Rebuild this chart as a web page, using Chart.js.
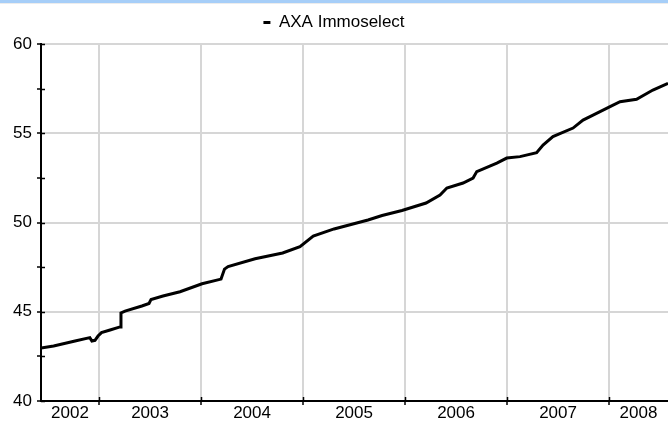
<!DOCTYPE html>
<html>
<head>
<meta charset="utf-8">
<script src="https://cdn.jsdelivr.net/npm/chart.js@4.4.1/dist/chart.umd.min.js"></script>
<style>
  body { margin: 0; background: #fff; }
  #wrap { position: relative; width: 668px; height: 421px; }
  #topbar { position: absolute; left: 0; top: 0; width: 668px; height: 3px; background: #a6cef8; border-bottom: 1px solid #ececec; }
  canvas { position: absolute; left: 0; top: 0; }
</style>
</head>
<body>
<div id="wrap">
  <canvas id="chart" width="668" height="421"></canvas>
  <div id="topbar"></div>
</div>
<script>
// fund price (x = decimal year)
const seriesName = "AXA Immoselect"
const dates = [2002.431, 2002.555, 2002.765, 2002.91, 2002.93, 2002.96, 2002.99, 2003.024, 2003.108, 2003.206,
    2003.215, 2003.255, 2003.42, 2003.49, 2003.51, 2003.627, 2003.794, 2004.01, 2004.196, 2004.23,
    2004.265, 2004.53, 2004.8, 2004.97, 2005.1, 2005.304, 2005.637, 2005.775, 2005.97, 2006.206,
    2006.343, 2006.41, 2006.569, 2006.667, 2006.703, 2006.9, 2006.997, 2007.127, 2007.29, 2007.353,
    2007.45, 2007.647, 2007.745, 2007.843, 2008.01, 2008.108, 2008.27, 2008.43, 2008.578]
const prices = [42.97, 43.08, 43.36, 43.55, 43.36, 43.4, 43.64, 43.83, 43.98, 44.15,
    44.93, 45.04, 45.32, 45.46, 45.69, 45.88, 46.12, 46.57, 46.83, 47.39,
    47.53, 47.97, 48.29, 48.65, 49.24, 49.64, 50.14, 50.39, 50.67, 51.09,
    51.54, 51.93, 52.21, 52.49, 52.85, 53.33, 53.61, 53.69, 53.91, 54.34,
    54.81, 55.29, 55.74, 56.02, 56.49, 56.77, 56.9, 57.42, 57.8]
const yearLabels = ["2002", "2003", "2004", "2005", "2006", "2007", "2008"]
const xMin = 2002.431
const xMax = 2008.578

const fontFamily = "'Liberation Sans', Arial, sans-serif"

// a bit more room under the legend
const legendSpace = {
    id: "legendSpace",
    beforeInit(chart) {
        const fit = chart.legend.fit
        chart.legend.fit = function () {
            fit.call(this)
            this.height += 3
        }
    }
}

// ticks that cross the axis line, and year names centred in each year
const axisExtras = {
    id: "axisExtras",
    afterDraw(chart) {
        const ctx = chart.ctx
        const xs = chart.scales.x
        const ys = chart.scales.y
        ctx.save()
        ctx.strokeStyle = "#000"
        ctx.lineWidth = 1.5
        ctx.beginPath()
        ys.ticks.forEach(t => {
            const py = Math.round(ys.getPixelForValue(t.value)) + 0.5
            ctx.moveTo(xs.left, py)
            ctx.lineTo(xs.left + 4, py)
        })
        xs.ticks.forEach(t => {
            const px = Math.round(xs.getPixelForValue(t.value)) + 0.5
            ctx.moveTo(px, ys.bottom)
            ctx.lineTo(px, ys.bottom - 4)
        })
        ctx.stroke()

        ctx.fillStyle = "#000"
        ctx.font = "17px " + fontFamily
        ctx.textAlign = "center"
        ctx.textBaseline = "middle"
        yearLabels.forEach(label => {
            const y0 = Math.max(xMin, +label)
            const y1 = Math.min(xMax, +label + 1)
            const mid = (xs.getPixelForValue(y0) + xs.getPixelForValue(y1)) / 2
            ctx.fillText(label, mid, ys.bottom + 12)
        })
        ctx.restore()
    }
}

new Chart(document.getElementById("chart"), {
    type: "line",
    data: {
        datasets: [
            {
                label: seriesName,
                data: dates.map((d, i) => ({ x: d, y: prices[i] })),
                borderColor: "#000",
                backgroundColor: "#000",
                borderWidth: 3,
                pointRadius: 0,
                tension: 0
            }
        ]
    },
    options: {
        responsive: false,
        animation: false,
        layout: { padding: { top: 5, right: 0, left: 0, bottom: 0 } },
        plugins: {
            legend: {
                display: true,
                position: "top",
                labels: {
                    boxWidth: 7,
                    boxHeight: 3,
                    color: "#000",
                    padding: 9,
                    font: { family: fontFamily, size: 17 },
                    generateLabels: chart =>
                        Chart.defaults.plugins.legend.labels.generateLabels(chart).map(item => ({
                            ...item,
                            lineWidth: 0,
                            fillStyle: "#000"
                        }))
                }
            },
            tooltip: { enabled: false }
        },
        scales: {
            x: {
                type: "linear",
                min: xMin,
                max: xMax,
                afterBuildTicks: scale => {
                    scale.ticks = [2003, 2004, 2005, 2006, 2007, 2008].map(v => ({ value: v }))
                },
                afterFit: scale => { scale.height = 20 },
                ticks: { display: false },
                grid: { color: "#d6d6d6", lineWidth: 2, tickLength: 4, tickColor: "#000", tickWidth: 1.5 },
                border: { color: "#000", width: 2 }
            },
            y: {
                min: 40,
                max: 60,
                afterFit: scale => { scale.width = 41 },
                ticks: {
                    stepSize: 2.5,
                    color: "#000",
                    font: { family: fontFamily, size: 17 },
                    padding: 5,
                    callback: v => (v % 5 === 0 ? v : "")
                },
                grid: {
                    color: c => (c.tick && c.tick.value % 5 === 0 ? "#d6d6d6" : "rgba(0,0,0,0)"),
                    lineWidth: 2,
                    tickLength: 4,
                    tickColor: "#000",
                    tickWidth: 1.5
                },
                border: { color: "#000", width: 2 }
            }
        }
    },
    plugins: [legendSpace, axisExtras]
})
</script>
</body>
</html>
